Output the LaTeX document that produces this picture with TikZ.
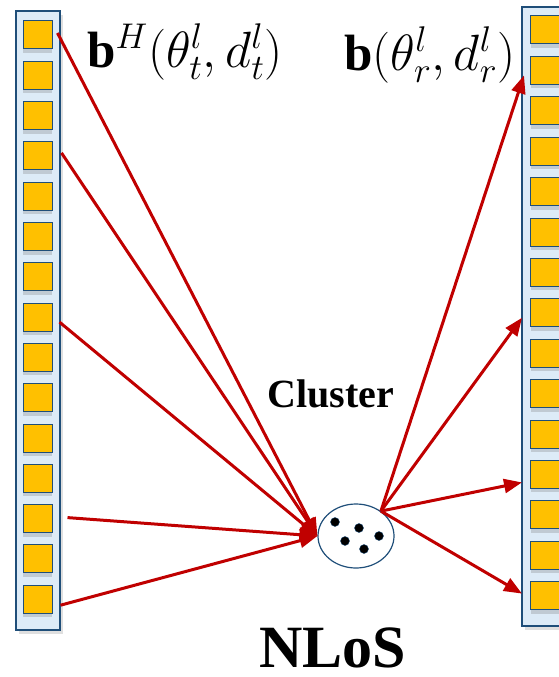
\RequirePackage{fix-cm}
\documentclass[tikz,border=0pt]{standalone}
\usepackage{fontspec}
\setmainfont{Liberation Serif}
\usetikzlibrary{positioning, shapes.geometric, arrows.meta, shadows}

\definecolor{panelblue}{HTML}{DDEBF7}
\definecolor{edgeblue}{HTML}{1F4E79}
\definecolor{elemgold}{HTML}{FFC000}
\definecolor{rayred}{HTML}{C00000}

\begin{document}
\begin{tikzpicture}[x=1pt, y=-1pt,
    array/.style={rectangle, draw=edgeblue, fill=panelblue, line width=1.2pt, minimum width=44pt, minimum height=619pt, drop shadow={shadow xshift=3pt, shadow yshift=-4pt, opacity=0.25}},
    element/.style={rectangle, draw=edgeblue, fill=elemgold, line width=1pt, minimum width=29pt, minimum height=28pt, inner sep=0pt, drop shadow={shadow xshift=0pt, shadow yshift=-4pt, opacity=0.3}},
    ray/.style={-{Triangle[length=18pt, width=14pt]}, draw=rayred, line width=3pt},
    scatterer/.style={circle, draw=edgeblue, fill=black, inner sep=0pt, minimum size=9pt},
    steering/.style={scale=1.7, font=\fontsize{30}{36}\selectfont}
]
\useasboundingbox (0,0) rectangle (558,677);

% Transmit array
\node[array] (txarray) at (38, 320.5) {};
\foreach \i in {1,...,15}
    \node[element] (tx\i) at (37.5, {35+40.3*(\i-1)}) {};

% Receive array (runs off the right edge)
\node[array, minimum width=48pt] (rxarray) at (546, 316.5) {};
\foreach \i in {1,...,15}
    \node[element] (rx\i) at (545, {30+40.4*(\i-1)}) {};

% Scattering cluster
\node[ellipse, draw=edgeblue, line width=1.2pt, minimum width=76pt, minimum height=64pt, inner sep=0pt] (cluster) at (356, 536) {};
\node[scatterer] (s1) at (335, 522) {};
\node[scatterer] (s2) at (359, 528) {};
\node[scatterer] (s3) at (345, 541) {};
\node[scatterer] (s4) at (379, 536) {};
\node[scatterer] (s5) at (364, 549) {};

% Rays towards the cluster
\draw[ray] ([xshift=5pt, yshift=2pt]tx1.east) -- (cluster.west);
\draw[ray] ([xshift=9pt, yshift=3pt]tx4.east) -- (cluster.west);
\draw[ray] ([xshift=7pt, yshift=-5pt]tx8.east) -- (cluster.west);
\draw[ray] ([xshift=15pt, yshift=1pt]tx13.east) -- (cluster.west);
\draw[ray] ([xshift=8pt, yshift=-6pt]tx15.east) -- (cluster.west);

% Rays leaving the cluster
\draw[ray] (cluster.45) -- ([xshift=-6pt, yshift=-5pt]rx2.west);
\draw[ray] (cluster.45) -- ([xshift=-8pt, yshift=-5pt]rx8.west);
\draw[ray] (cluster.45) -- ([xshift=-8pt, yshift=-8pt]rx12.west);
\draw[ray] (cluster.45) -- ([xshift=-8pt, yshift=2pt]rx15.west);

% Labels
\node[steering] (txlabel) at (185, 52) {$\mathbf{b}^H(\theta_t^l, d_t^l)$};
\node[steering] (rxlabel) at (430, 55) {$\mathbf{b}(\theta_r^l, d_r^l)$};
\node[anchor=base, font=\bfseries\fontsize{40}{48}\selectfont] (clusterlabel) at (331, 407) {Cluster};
\node[anchor=base, inner sep=0pt, font=\bfseries\fontsize{60}{66}\selectfont] (nlos) at (333, 667) {NLoS};

\end{tikzpicture}
\end{document}
